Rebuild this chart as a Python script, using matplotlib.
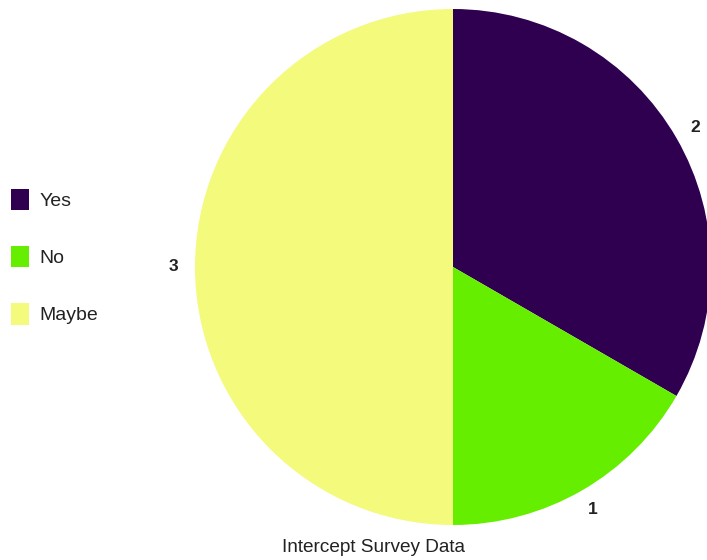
import matplotlib
matplotlib.use("Agg")
from matplotlib import pyplot as plt
from matplotlib.patches import Patch

# survey answers
categories = ["Yes", "No", "Maybe"]
counts = [2, 1, 3]
colors = ["#2e004f", "#66ee00", "#f3fa7c"]
title = "Intercept Survey Data"

plt.rcParams['font.family'] = ['Liberation Sans', 'DejaVu Sans']

W, H = 707, 560
fig = plt.figure(figsize=(W / 100, H / 100), dpi=100)

# pie axes placed in pixel terms: centre (453, 267), radius 258
cx, cy, r = 453, 267, 258
ax = fig.add_axes([(cx - r) / W, (H - cy - r) / H, 2 * r / W, 2 * r / H])
wedges, texts = ax.pie(
    counts,
    labels=[str(c) for c in counts],
    colors=colors,
    startangle=90,
    counterclock=False,
    labeldistance=1.085,
    textprops=dict(fontsize=12.5, fontweight='bold', color='#222222'),
)
for t in texts:
    t.set_ha('center')
    t.set_va('center')
ax.set_xlim(-1, 1)
ax.set_ylim(-1, 1)
ax.set_aspect('auto')
ax.axis('off')

# legend on the left
handles = [Patch(facecolor=c, edgecolor='none', label=l) for c, l in zip(colors, categories)]
fig.legend(
    handles=handles,
    loc='upper left',
    bbox_to_anchor=(11 / W, (H - 189) / H),
    borderaxespad=0,
    borderpad=0,
    frameon=False,
    fontsize=14,
    handlelength=0.93,
    handleheight=1.3,
    handletextpad=0.55,
    labelspacing=1.85,
    labelcolor='#222222',
)

fig.text(374 / W, 1 - 548 / H, title, ha='center', va='center', fontsize=13.7, color='#222222')

fig.savefig("out.png", dpi=100)
